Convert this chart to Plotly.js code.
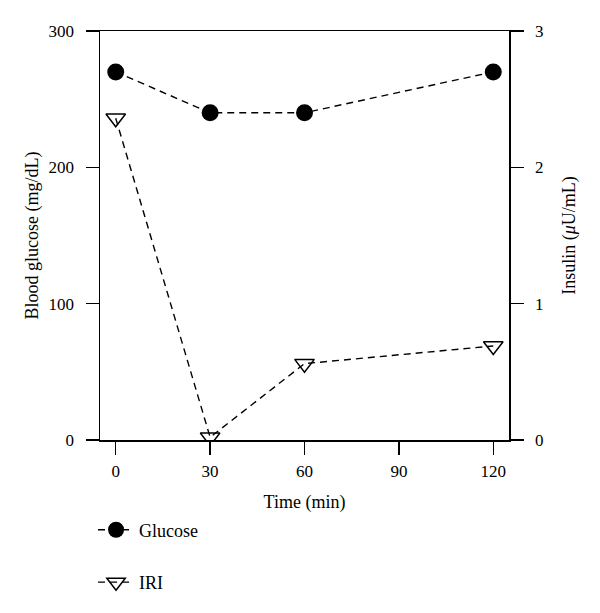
<!DOCTYPE html>
<html>
<head>
<meta charset="utf-8">
<script src="https://cdn.plot.ly/plotly-3.0.1.min.js"></script>
<style>html,body{margin:0;padding:0;background:#fff;}#chart{width:600px;height:613px;}</style>
</head>
<body>
<div id="chart"></div>
<script>
var timeMin = [0, 30, 60, 120];
var glucose = [270, 240, 240, 270];
var insulinIRI = [2.36, 0.02, 0.56, 0.69];
var xTicks = [0, 30, 60, 90, 120];
var yTicks = [0, 100, 200, 300];
var y2Ticks = [0, 1, 2, 3];

var FONT = 'Liberation Serif, Times New Roman, serif';

var traces = [
  {
    x: timeMin, y: glucose, name: 'Glucose', yaxis: 'y', legendgroup: 'g1',
    mode: 'lines+markers', type: 'scatter',
    line: {color: '#000', width: 1.4, dash: '7px,5px'},
    marker: {symbol: 'circle', size: 17, color: '#000'}
  },
  {
    x: timeMin, y: insulinIRI, name: 'IRI', yaxis: 'y2', legendgroup: 'g2',
    mode: 'lines+markers', type: 'scatter',
    line: {color: '#000', width: 1.4, dash: '7px,5px'},
    marker: {symbol: 'triangle-down-open', size: 17, color: '#000', line: {color: '#000', width: 1.5}}
  }
];

var axisCommon = {
  showline: true, linecolor: '#000', linewidth: 1.5,
  ticks: 'outside', ticklen: 13, tickwidth: 1.5, tickcolor: '#000',
  showgrid: false, zeroline: false,
  tickfont: {family: FONT, size: 17, color: '#000'}
};

var layout = {
  width: 600, height: 613,
  margin: {l: 99.5, r: 90.5, t: 31, b: 171},
  paper_bgcolor: '#fff', plot_bgcolor: '#fff',
  showlegend: true,
  font: {family: FONT, color: '#000'},
  xaxis: Object.assign({}, axisCommon, {
    range: [-5, 125], tickmode: 'array', tickvals: xTicks, mirror: true,
    ticklabelstandoff: 2, automargin: true,
    title: {text: 'Time (min)', font: {family: FONT, size: 18, color: '#000'}, standoff: 15}
  }),
  yaxis: Object.assign({}, axisCommon, {
    range: [0, 300], tickmode: 'array', tickvals: yTicks,
    ticklabelstandoff: 8, automargin: true,
    title: {text: 'Blood glucose (mg/dL)', font: {family: FONT, size: 18, color: '#000'}, standoff: 5}
  }),
  yaxis2: Object.assign({}, axisCommon, {
    range: [0, 3], tickmode: 'array', tickvals: y2Ticks, overlaying: 'y', side: 'right',
    ticklabelstandoff: 8, automargin: true,
    title: {text: 'Insulin (<i>μ</i>U/mL)', font: {family: FONT, size: 18, color: '#000'}, standoff: 20}
  }),
  legend: {
    x: -0.017, xanchor: 'left', y: -0.175, yanchor: 'top',
    traceorder: 'grouped', tracegroupgap: 26, itemwidth: 36,
    font: {family: FONT, size: 18, color: '#000'},
    bgcolor: 'rgba(0,0,0,0)'
  }
};

Plotly.newPlot('chart', traces, layout, {displayModeBar: false, staticPlot: true});
</script>
</body>
</html>
